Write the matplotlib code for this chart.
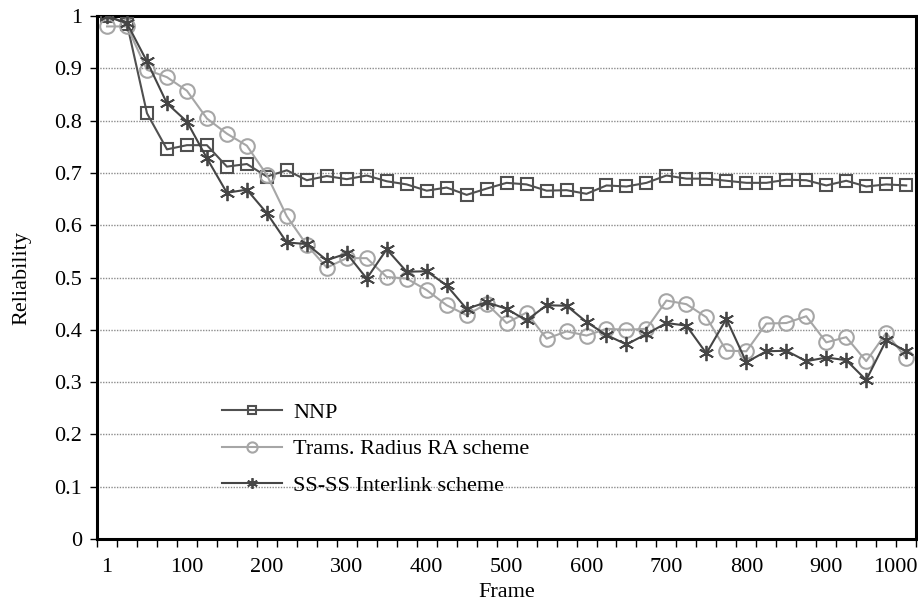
import matplotlib
matplotlib.use("Agg")
import matplotlib.pyplot as plt
import matplotlib.transforms as mtransforms
import numpy as np

plt.rcParams['font.family'] = ['Liberation Serif', 'DejaVu Serif']

# frame categories (one point every 25 frames)
frames = [1, 25, 50, 75, 100, 125, 150, 175, 200, 225, 250, 275, 300, 325, 350,
          375, 400, 425, 450, 475, 500, 525, 550, 575, 600, 625, 650, 675, 700,
          725, 750, 775, 800, 825, 850, 875, 900, 925, 950, 975, 1000]
tick_labels = ['1', '100', '200', '300', '400', '500', '600', '700', '800', '900', '1000']

nnp = [1.0, 0.985, 0.814, 0.745, 0.753, 0.753, 0.712, 0.717, 0.693, 0.705, 0.686,
       0.694, 0.688, 0.695, 0.684, 0.678, 0.666, 0.672, 0.658, 0.670, 0.681,
       0.678, 0.666, 0.667, 0.660, 0.676, 0.674, 0.681, 0.695, 0.689, 0.689,
       0.685, 0.681, 0.681, 0.687, 0.686, 0.676, 0.685, 0.674, 0.678, 0.676]
trams = [0.980, 0.980, 0.897, 0.883, 0.857, 0.804, 0.775, 0.752, 0.696, 0.617, 0.562,
         0.519, 0.537, 0.537, 0.501, 0.498, 0.476, 0.447, 0.428, 0.450, 0.413,
         0.433, 0.383, 0.397, 0.389, 0.402, 0.400, 0.402, 0.456, 0.449, 0.424,
         0.360, 0.359, 0.412, 0.413, 0.426, 0.376, 0.386, 0.340, 0.394, 0.346]
ssss = [1.0, 0.986, 0.913, 0.833, 0.798, 0.728, 0.662, 0.668, 0.623, 0.567, 0.564,
        0.533, 0.546, 0.498, 0.554, 0.511, 0.512, 0.485, 0.440, 0.453, 0.440,
        0.418, 0.447, 0.446, 0.415, 0.390, 0.372, 0.392, 0.413, 0.408, 0.355,
        0.421, 0.338, 0.359, 0.360, 0.340, 0.347, 0.342, 0.304, 0.380, 0.359]

x = np.arange(len(frames))

fig = plt.figure(figsize=(9.18, 6.05), dpi=100)
ax = fig.add_axes([0.1057, 0.109, 0.8923, 0.8646])

ax.plot(x, nnp, color='#505050', lw=1.5, marker='s', ms=8.5, mfc='none',
        mec='#505050', mew=1.5, label='NNP', zorder=3)
ax.plot(x, trams, color='#a6a6a6', lw=1.5, marker='o', ms=10.5, mfc='none',
        mec='#a6a6a6', mew=1.5, label='Trams. Radius RA scheme', zorder=4)
ax.plot(x, ssss, color='#454545', lw=1.5, marker=(6, 2, 0), ms=11,
        mec='#454545', mew=1.3, label='SS-SS Interlink scheme', zorder=5)

ax.set_xlim(-0.5, len(frames) - 0.5)
ax.set_ylim(0, 1)
ax.set_xticks(x[::4])
ax.set_xticklabels(tick_labels)
ax.set_xticks(np.arange(-0.5, len(frames), 1.0), minor=True)
ax.tick_params(axis='x', which='major', length=0, pad=14, labelsize=16)
ax.tick_params(axis='x', which='minor', length=6, width=1, direction='out')
ax.set_yticks(np.arange(0, 1.01, 0.1))
ax.set_yticklabels(['0', '0.1', '0.2', '0.3', '0.4', '0.5', '0.6', '0.7', '0.8', '0.9', '1'])
ax.tick_params(axis='y', length=5, width=1, direction='out', pad=6, labelsize=16)

# last label pulled in so it stays inside the figure
last = ax.get_xticklabels()[-1]
last.set_transform(last.get_transform() +
                   mtransforms.ScaledTranslation(-0.11, 0, fig.dpi_scale_trans))

ax.yaxis.grid(True, linestyle=(0, (1, 1)), color='#8c8c8c', lw=1)
ax.set_axisbelow(True)
for s in ax.spines.values():
    s.set_linewidth(2.2)
    s.set_color('black')

ax.set_xlabel('Frame', fontsize=16, labelpad=4)
ax.set_ylabel('Reliability', fontsize=16, labelpad=16)

leg = ax.legend(loc='upper left', bbox_to_anchor=(0.142, 0.279), frameon=False,
                fontsize=16, handlelength=2.7, handletextpad=0.5,
                labelspacing=0.73, markerscale=0.7, borderaxespad=0)

fig.savefig('out.png', dpi=100)
